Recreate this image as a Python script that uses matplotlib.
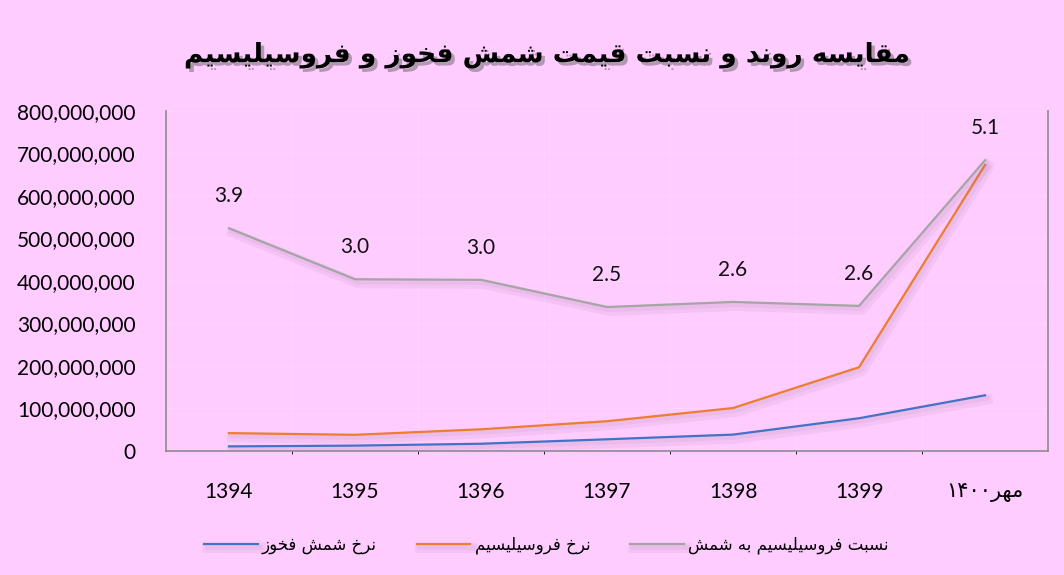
import matplotlib.pyplot as plt
import matplotlib.patheffects as pe
from matplotlib.ticker import FuncFormatter, FixedLocator

# داده‌ها (خوانده شده از تصویر)
years = ["1394", "1395", "1396", "1397", "1398", "1399", "1400"]
shemsh = [10.8e6, 12.6e6, 17.0e6, 27.5e6, 38.5e6, 77e6, 131e6]      # نرخ شمش فخوز
ferro = [42e6, 38e6, 51e6, 70e6, 101e6, 197e6, 673e6]              # نرخ فروسیلیسیم
ratio = [3.93, 3.03, 3.02, 2.54, 2.63, 2.56, 5.13]                 # نسبت

title_txt = "مقایسه روند و نسبت قیمت شمش فخوز و فروسیلیسیم"
legend_txt = ["نرخ شمش فخوز", "نرخ فروسیلیسیم", "نسبت فروسیلیسیم به شمش"]
last_month = "مهر"
last_year = "۱۴۰۰"

# شکل‌دهی ساده حروف فارسی (matplotlib خودش اتصال و راست به چپ ندارد)
FORMS = {
    "ا": ("\uFE8D", "\uFE8E", None, None),
    "ب": ("\uFE8F", "\uFE90", "\uFE91", "\uFE92"),
    "ت": ("\uFE95", "\uFE96", "\uFE97", "\uFE98"),
    "خ": ("\uFEA5", "\uFEA6", "\uFEA7", "\uFEA8"),
    "د": ("\uFEA9", "\uFEAA", None, None),
    "ر": ("\uFEAD", "\uFEAE", None, None),
    "ز": ("\uFEAF", "\uFEB0", None, None),
    "س": ("\uFEB1", "\uFEB2", "\uFEB3", "\uFEB4"),
    "ش": ("\uFEB5", "\uFEB6", "\uFEB7", "\uFEB8"),
    "ف": ("\uFED1", "\uFED2", "\uFED3", "\uFED4"),
    "ق": ("\uFED5", "\uFED6", "\uFED7", "\uFED8"),
    "ل": ("\uFEDD", "\uFEDE", "\uFEDF", "\uFEE0"),
    "م": ("\uFEE1", "\uFEE2", "\uFEE3", "\uFEE4"),
    "ن": ("\uFEE5", "\uFEE6", "\uFEE7", "\uFEE8"),
    "ه": ("\uFEE9", "\uFEEA", "\uFEEB", "\uFEEC"),
    "و": ("\uFEED", "\uFEEE", None, None),
    "ی": ("\uFEEF", "\uFEF0", "\uFEF3", "\uFEF4"),
}


def fa(text):
    out = []
    for i, c in enumerate(text):
        if c not in FORMS:
            out.append(c)
            continue
        iso, fin, ini, med = FORMS[c]
        prev = text[i - 1] if i > 0 else ""
        nxt = text[i + 1] if i < len(text) - 1 else ""
        jp = prev in FORMS and FORMS[prev][2] is not None
        jn = ini is not None and nxt in FORMS
        if jp and jn:
            out.append(med)
        elif jp:
            out.append(fin)
        elif jn:
            out.append(ini)
        else:
            out.append(iso)
    return "".join(reversed(out))


plt.rcParams["font.family"] = ["Lato", "DejaVu Sans"]

bg = "#FFCCFF"
fig = plt.figure(figsize=(10.64, 5.75), dpi=100, facecolor=bg)
ax = fig.add_axes([0.156, 0.2157, 0.829, 0.5913])
ax.set_facecolor(bg)

x = list(range(len(years)))
shadow = [pe.SimpleLineShadow(offset=(2, -3), shadow_color="#8a6a8a", alpha=0.09, linewidth=7),
          pe.SimpleLineShadow(offset=(1.5, -2), shadow_color="#8a6a8a", alpha=0.08, linewidth=3.5),
          pe.Normal()]

l1, = ax.plot(x, shemsh, color="#4472C4", lw=1.6, path_effects=shadow)
l2, = ax.plot(x, ferro, color="#ED7D31", lw=1.6, path_effects=shadow)

ax.set_xlim(-0.5, 6.5)
ax.set_ylim(0, 800e6)
ax.set_yticks([i * 100e6 for i in range(9)])
ax.yaxis.set_major_formatter(FuncFormatter(lambda v, p: f"{int(v):,}"))
ax.set_xticks(x)
ax.set_xticklabels(years[:-1] + [last_year + fa(last_month)])
ax.tick_params(axis="both", length=0, labelsize=15)
ax.tick_params(axis="y", pad=22)
ax.tick_params(axis="x", pad=22)

ax.xaxis.set_minor_locator(FixedLocator([i + 0.5 for i in range(6)]))
ax.grid(axis="y", color="#FFD2FF", lw=0.8)
ax.grid(axis="x", which="minor", color="#FFD2FF", lw=0.8)
ax.set_axisbelow(True)

for s in ["left", "bottom", "right"]:
    ax.spines[s].set_color("#8C8C8C")
    ax.spines[s].set_linewidth(1.2)
ax.spines["top"].set_visible(False)

ax2 = ax.twinx()
ax2.set_ylim(0, 6)
ax2.set_yticks([])
for s in ax2.spines.values():
    s.set_visible(False)
l3, = ax2.plot(x, ratio, color="#A5A5A5", lw=1.6, path_effects=shadow)
for xi, r in zip(x, ratio):
    ax2.annotate(f"{r:.1f}", (xi, r), xytext=(0, 23), textcoords="offset points",
                 ha="center", va="center", fontsize=15, color="#111111")

fig.text(0.514, 0.904, fa(title_txt), ha="center", va="center", fontsize=19,
         fontweight="bold", family=["DejaVu Sans"],
         path_effects=[pe.withSimplePatchShadow(offset=(2.5, -2.5), shadow_rgbFace="#555555", alpha=0.45)])

fig.legend([l1, l2, l3], [fa(t) for t in legend_txt], loc="center", ncol=3,
           bbox_to_anchor=(0.5136, 0.052), frameon=False,
           prop={"family": ["DejaVu Sans"], "size": 12},
           handlelength=3.2, handletextpad=0.25, columnspacing=2.4)

fig.savefig("out.png", dpi=100, facecolor=bg)
